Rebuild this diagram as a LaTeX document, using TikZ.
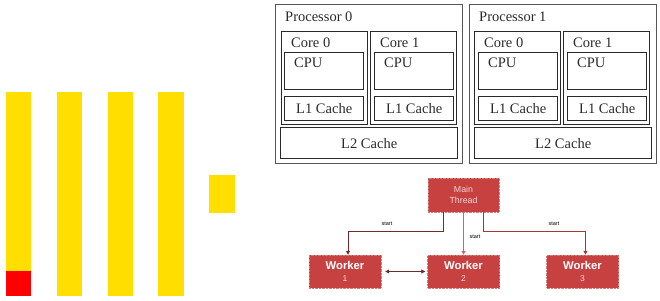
\documentclass[tikz,border=0pt]{standalone}
\usepackage{fontspec}
\setmainfont{Liberation Serif}
\newfontfamily\wsans{Liberation Sans}
\usepackage{xcolor}
\usetikzlibrary{arrows.meta,positioning,calc}
\definecolor{baryellow}{HTML}{FFDE00}
\definecolor{barred}{HTML}{FF0000}
\definecolor{boxline}{HTML}{2A2A2A}
\definecolor{outerline}{HTML}{555555}
\definecolor{threadred}{HTML}{C84141}
\definecolor{threadtext}{HTML}{F6D6D6}
\definecolor{linkdark}{HTML}{6E2C2C}
\definecolor{linkpink}{HTML}{D26464}
\definecolor{linkred}{HTML}{A23A3A}

\begin{document}
\begin{tikzpicture}[
    x=1pt,y=-1pt,
    proc/.style={rectangle,draw=outerline,line width=1.2pt,anchor=north west,
      minimum width=187pt,minimum height=159pt,inner sep=0pt},
    core/.style={rectangle,draw=boxline,line width=1.4pt,anchor=north west,
      minimum width=86pt,minimum height=93pt,inner sep=0pt},
    cpu/.style={rectangle,draw=boxline,line width=1.4pt,anchor=north west,
      minimum width=79pt,minimum height=37pt,inner sep=0pt},
    lcache/.style={rectangle,draw=boxline,line width=1.4pt,anchor=north west,
      minimum width=79pt,minimum height=24pt,inner sep=0pt,text=boxline,
      font=\fontsize{14.5}{16}\selectfont},
    ltwo/.style={rectangle,draw=boxline,line width=1.4pt,anchor=north west,
      minimum width=177pt,minimum height=31pt,inner sep=0pt,text=boxline,
      font=\fontsize{14.5}{16}\selectfont},
    tag/.style={anchor=north west,inner sep=0pt,text=boxline,font=\fontsize{14.5}{16}\selectfont},
    thread/.style={rectangle,fill=threadred,draw=threadred!70!white,densely dotted,
      minimum width=71pt,minimum height=34pt,align=center,inner sep=0pt},
    worker/.style={rectangle,fill=threadred,draw=threadred!70!white,densely dotted,
      minimum width=72pt,minimum height=33pt,align=center,inner sep=0pt},
    link/.style={-{Triangle[length=4pt,width=4pt]},line width=1pt},
    note/.style={font=\wsans\fontsize{5.5}{6}\selectfont,inner sep=0pt}
  ]
    \useasboundingbox (0,0) rectangle (660,300);

    % bars
    \fill[baryellow] (6,92) rectangle (31,271);
    \fill[barred] (6,271) rectangle (31,296);
    \fill[baryellow] (57,92) rectangle (82,296);
    \fill[baryellow] (108,92) rectangle (133,296);
    \fill[baryellow] (158,92) rectangle (184,296);
    \fill[baryellow] (209,175) rectangle (235,213);

    % processor 0
    \node[proc] (p0) at (275,4) {};
    \node[tag] at ($(p0.north west)+(10,8)$) {Processor 0};
    \node[core] (p0c0) at (281,31) {};
    \node[tag] at ($(p0c0.north west)+(10,7)$) {Core 0};
    \node[cpu] (p0c0cpu) at (284,52) {};
    \node[tag] at ($(p0c0cpu.north west)+(10,6)$) {CPU};
    \node[lcache] (p0c0l1) at (284,96) {L1 Cache};
    \node[core] (p0c1) at (370,31) {};
    \node[tag] at ($(p0c1.north west)+(10,7)$) {Core 1};
    \node[cpu] (p0c1cpu) at (374,52) {};
    \node[tag] at ($(p0c1cpu.north west)+(10,6)$) {CPU};
    \node[lcache] (p0c1l1) at (374,96) {L1 Cache};
    \node[ltwo] (p0l2) at (280,127) {L2 Cache};

    % processor 1
    \node[proc] (p1) at (469,4) {};
    \node[tag] at ($(p1.north west)+(10,8)$) {Processor 1};
    \node[core] (p1c0) at (474,31) {};
    \node[tag] at ($(p1c0.north west)+(10,7)$) {Core 0};
    \node[cpu] (p1c0cpu) at (478,52) {};
    \node[tag] at ($(p1c0cpu.north west)+(10,6)$) {CPU};
    \node[lcache] (p1c0l1) at (478,96) {L1 Cache};
    \node[core] (p1c1) at (563,31) {};
    \node[tag] at ($(p1c1.north west)+(10,7)$) {Core 1};
    \node[cpu] (p1c1cpu) at (567,52) {};
    \node[tag] at ($(p1c1cpu.north west)+(10,6)$) {CPU};
    \node[lcache] (p1c1l1) at (567,96) {L1 Cache};
    \node[ltwo] (p1l2) at (474,127) {L2 Cache};

    % threads
    \node[thread,font=\wsans\fontsize{8.8}{10.5}\selectfont,text=threadtext] (main) at (463.5,195) {Main\\Thread};
    \node[worker] (w1) at (345,271.5) {{\wsans\bfseries\fontsize{11.3}{13}\selectfont\color{white}Worker}\\{\wsans\fontsize{8.5}{9}\selectfont\color{threadtext}1}};
    \node[worker] (w2) at (463.5,271.5) {{\wsans\bfseries\fontsize{11.3}{13}\selectfont\color{white}Worker}\\{\wsans\fontsize{8.5}{9}\selectfont\color{threadtext}2}};
    \node[worker] (w3) at (582.5,271.5) {{\wsans\bfseries\fontsize{11.3}{13}\selectfont\color{white}Worker}\\{\wsans\fontsize{8.5}{9}\selectfont\color{threadtext}3}};

    \draw[link,draw=linkdark] ([xshift=-20pt]main.south) -- ++(0,19) -| ([xshift=3pt]w1.north);
    \draw[link,draw=linkpink] (main.south) -- (w2.north);
    \draw[link,draw=linkred] ([xshift=20pt]main.south) -- ++(0,19) -| ([xshift=3pt]w3.north);
    \draw[{Triangle[length=4pt,width=4pt]}-{Triangle[length=4pt,width=4pt]},line width=0.8pt,draw=linkdark,shorten <=4pt,shorten >=2pt] (w1.east) -- (w2.west);

    \node[note] at (387,224) {start};
    \node[note] at (475,237) {start};
    \node[note] at (554,224) {start};
  \end{tikzpicture}
\end{document}
